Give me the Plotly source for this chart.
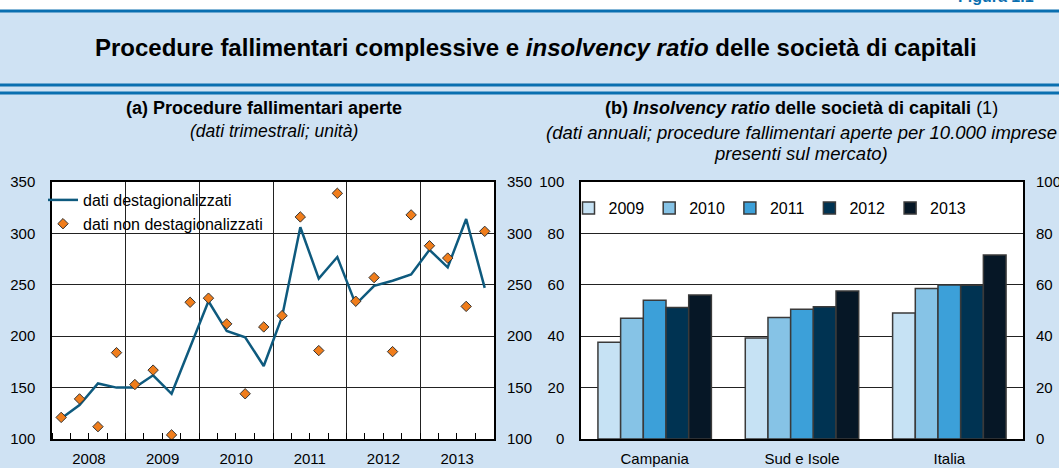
import pandas as pd
import plotly.graph_objects as go

# (a) procedure fallimentari aperte, dati trimestrali 2008-2013
quarters = pd.period_range("2008Q1", "2013Q4", freq="Q")
destagionalizzati = [120, 133, 154, 150, 150, 162, 144, 189, 234, 205, 199, 171,
                     219, 306, 256, 277, 231, 249, 254, 260, 284, 267, 314, 247]
non_destagionalizzati = [121, 139, 112, 184, 153, 167, 104, 233, 237, 212, 144, 209,
                         220, 316, 186, 339, 234, 257, 185, 318, 288, 276, 229, 302]

# (b) insolvency ratio, dati annuali
aree = ["Campania", "Sud e Isole", "Italia"]
anni = ["2009", "2010", "2011", "2012", "2013"]
ratio_2009 = [37.6, 39.3, 49.0]
ratio_2010 = [47.0, 47.3, 58.6]
ratio_2011 = [54.0, 50.5, 59.9]
ratio_2012 = [51.2, 51.5, 59.8]
ratio_2013 = [56.0, 57.6, 71.6]
ratios = [ratio_2009, ratio_2010, ratio_2011, ratio_2012, ratio_2013]
colori_anni = ["#C6E2F4", "#86C3E6", "#3CA0D9", "#003352", "#061726"]

W, H = 1059, 468
FONT = "Liberation Sans, Arial, sans-serif"
BG = "#CFE2F3"
BLU = "#0A6FB0"


def fx(px):
    return px / W


def fy(px):
    return 1 - px / H


# punto medio di ogni trimestre
x_trim = [p.start_time + (p.end_time - p.start_time) / 2 for p in quarters]

figure = go.Figure()

figure.add_trace(
    go.Scatter(
        x=x_trim,
        y=destagionalizzati,
        mode="lines",
        name="dati destagionalizzati",
        line=dict(color="#0E5A7E", width=2.5),
        xaxis="x",
        yaxis="y",
        legend="legend",
    )
)
figure.add_trace(
    go.Scatter(
        x=x_trim,
        y=non_destagionalizzati,
        mode="markers",
        name="dati non destagionalizzati",
        marker=dict(symbol="diamond", size=8, color="#F07D1B",
                    line=dict(color="#333333", width=1)),
        xaxis="x",
        yaxis="y2",
        legend="legend",
    )
)

for anno, valori, colore in zip(anni, ratios, colori_anni):
    figure.add_trace(
        go.Bar(
            x=aree,
            y=valori,
            name=anno,
            marker=dict(color=colore, line=dict(color="#3A3A3A", width=1.5)),
            xaxis="x3",
            yaxis="y3",
            legend="legend2",
        )
    )

# asse destro del pannello (b)
figure.add_trace(
    go.Scatter(x=[], y=[], xaxis="x3", yaxis="y4", showlegend=False)
)

dom_y = [fy(439), fy(182)]
tick_font = dict(family=FONT, size=15, color="black")

figure.update_layout(
    width=W,
    height=H,
    margin=dict(l=0, r=0, t=0, b=0, pad=0, autoexpand=False),
    paper_bgcolor=BG,
    plot_bgcolor="white",
    font=dict(family=FONT, size=15, color="black"),
    barmode="group",
    bargap=0.23,
    bargroupgap=0,
    xaxis=dict(
        domain=[fx(52), fx(494)],
        anchor="y",
        type="date",
        range=["2008-01-01", "2014-01-01"],
        tick0="2008-01-01",
        dtick="M12",
        tickformat="%Y",
        ticklabelmode="period",
        ticks="inside",
        ticklen=6,
        tickcolor="black",
        ticklabelstandoff=5,
        showgrid=True,
        gridcolor="#222222",
        gridwidth=1,
        showline=True,
        mirror=True,
        linecolor="black",
        linewidth=1.5,
        tickfont=tick_font,
        minor=dict(dtick="M3", ticks="inside", ticklen=6, tickwidth=1,
                   tickcolor="black", showgrid=False),
    ),
    yaxis=dict(
        domain=dom_y,
        anchor="x",
        range=[100, 350],
        dtick=50,
        showgrid=True,
        gridcolor="#222222",
        gridwidth=1,
        showline=True,
        mirror=True,
        linecolor="black",
        linewidth=1.5,
        ticks="",
        ticklabelstandoff=12,
        tickfont=tick_font,
        zeroline=False,
    ),
    yaxis2=dict(
        overlaying="y",
        side="right",
        anchor="x",
        range=[100, 350],
        dtick=50,
        showgrid=False,
        ticks="",
        ticklabelstandoff=12,
        tickfont=tick_font,
        zeroline=False,
    ),
    xaxis3=dict(
        domain=[fx(581), fx(1023)],
        anchor="y3",
        showgrid=False,
        showline=True,
        mirror=True,
        linecolor="black",
        linewidth=1.5,
        ticks="",
        ticklabelstandoff=5,
        tickfont=tick_font,
    ),
    yaxis3=dict(
        domain=dom_y,
        anchor="x3",
        range=[0, 100],
        dtick=20,
        showgrid=True,
        gridcolor="#222222",
        gridwidth=1,
        showline=True,
        mirror=True,
        linecolor="black",
        linewidth=1.5,
        ticks="",
        ticklabelstandoff=12,
        tickfont=tick_font,
        zeroline=False,
    ),
    yaxis4=dict(
        overlaying="y3",
        side="right",
        anchor="x3",
        range=[0, 100],
        dtick=20,
        showgrid=False,
        ticks="",
        ticklabelstandoff=12,
        tickfont=tick_font,
        zeroline=False,
    ),
    legend=dict(
        x=fx(43),
        y=fy(183),
        xanchor="left",
        yanchor="top",
        bgcolor="rgba(0,0,0,0)",
        font=dict(family=FONT, size=16, color="black"),
        tracegroupgap=0,
    ),
    legend2=dict(
        orientation="h",
        x=fx(770),
        y=fy(191),
        xanchor="center",
        yanchor="top",
        bgcolor="rgba(0,0,0,0)",
        font=dict(family=FONT, size=16, color="black"),
    ),
)

# fascia del titolo
figure.add_shape(type="rect", xref="paper", yref="paper", x0=0, x1=1,
                 y0=fy(10), y1=1, fillcolor="white", line_width=0)
for riga in [11, 85, 93]:
    figure.add_shape(type="line", xref="paper", yref="paper", x0=0, x1=1,
                     y0=fy(riga), y1=fy(riga), line=dict(color=BLU, width=3))

testi = [
    ("<b>Procedure fallimentari complessive e <i>insolvency ratio</i> delle società di capitali</b>",
     536, 48, 24),
    ("<b>(a) Procedure fallimentari aperte</b>", 264, 108, 18),
    ("<i>(dati trimestrali; unità)</i>", 274, 131, 17.5),
    ("<b>(b) <i>Insolvency ratio</i> delle società di capitali</b> (1)", 801, 108, 18),
    ("<i>(dati annuali; procedure fallimentari aperte per 10.000 imprese</i>", 801, 132, 18.5),
    ("<i>presenti sul mercato)</i>", 801, 154, 18.5),
]
for testo, px, py, size in testi:
    figure.add_annotation(
        text=testo, xref="paper", yref="paper", x=fx(px), y=fy(py),
        xanchor="center", yanchor="middle", showarrow=False,
        font=dict(family=FONT, size=size, color="black"),
    )

# etichetta della figura, tagliata dal bordo superiore come nell'originale
figure.add_annotation(
    text="<b>Figura 1.1</b>", xref="paper", yref="paper",
    x=fx(956), y=fy(7), xanchor="left", yanchor="bottom", showarrow=False,
    font=dict(family=FONT, size=16, color=BLU),
)

figure.write_html(
    "out.html",
    config={"displayModeBar": False},
    post_script="document.body.style.margin='0';",
)
